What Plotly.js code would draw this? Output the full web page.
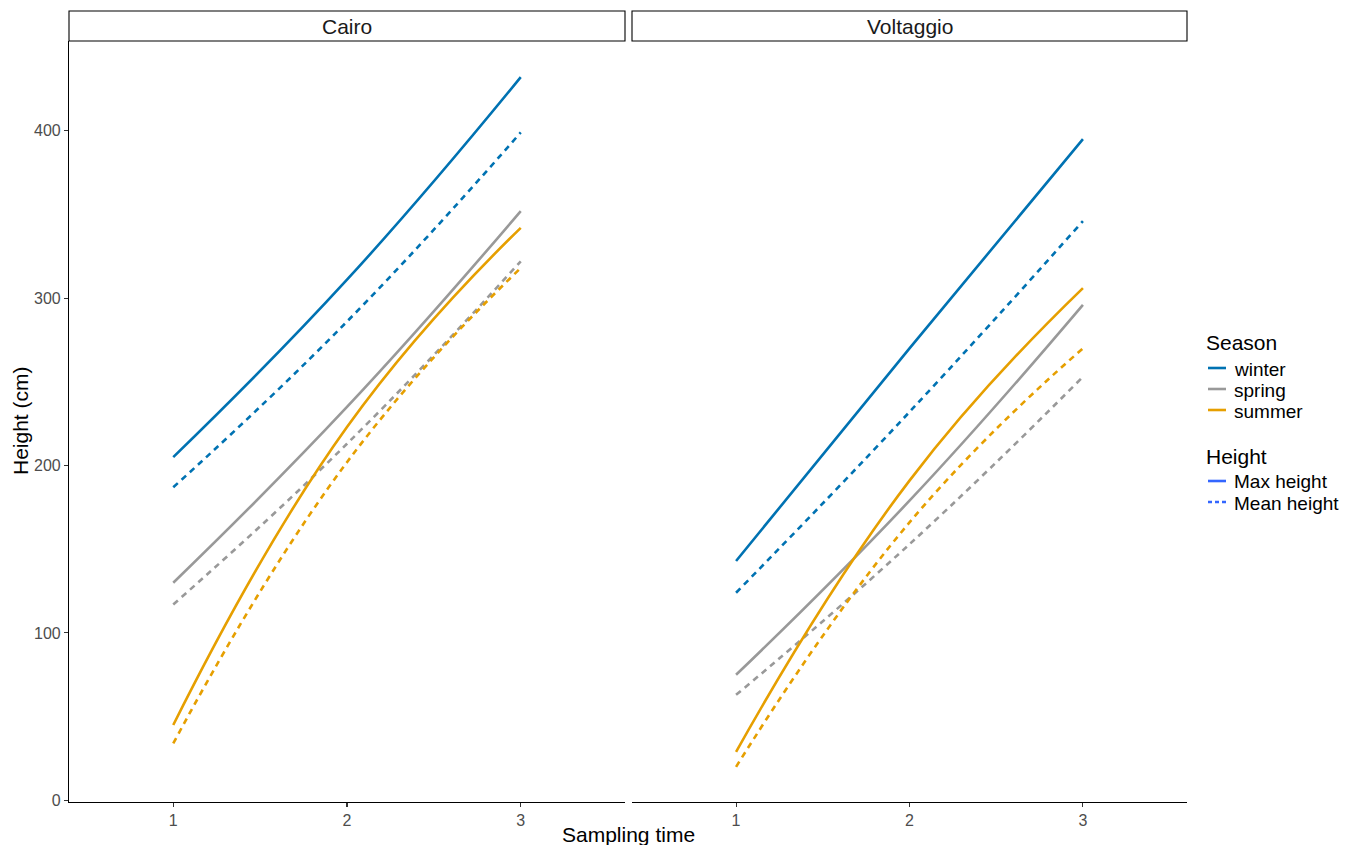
<!DOCTYPE html>
<html>
<head>
<meta charset="utf-8">
<script src="https://cdn.plot.ly/plotly-3.0.1.min.js"></script>
<style>html,body{margin:0;padding:0;background:#fff;}#chart{width:1366px;height:845px;}</style>
</head>
<body>
<div id="chart"></div>
<script>
// ---- data ----
const times = [1, 2, 3];
const cities = ["Cairo", "Voltaggio"];
const seasons = ["winter", "spring", "summer"];
const seasonColors = ["#0072B2", "#999999", "#E69F00"];
const heightTypes = ["Max height", "Mean height"];
const heightColor = "#3366FF";

const cairoWinterMax = [205, 311, 432];
const cairoWinterMean = [187, 286, 399];
const cairoSpringMax = [130, 235, 352];
const cairoSpringMean = [117, 213, 322];
const cairoSummerMax = [45, 223, 342];
const cairoSummerMean = [34, 202, 318];

const voltWinterMax = [143, 270, 395];
const voltWinterMean = [124, 232, 346];
const voltSpringMax = [75, 179, 296];
const voltSpringMean = [63, 153, 253];
const voltSummerMax = [29, 191, 306];
const voltSummerMean = [20, 166, 270];

const yTicks = [0, 100, 200, 300, 400];

// ---- build traces ----
const series = {
  Cairo: {
    winter: [cairoWinterMax, cairoWinterMean],
    spring: [cairoSpringMax, cairoSpringMean],
    summer: [cairoSummerMax, cairoSummerMean]
  },
  Voltaggio: {
    winter: [voltWinterMax, voltWinterMean],
    spring: [voltSpringMax, voltSpringMean],
    summer: [voltSummerMax, voltSummerMean]
  }
};

const DASH = "6px,5px";
const traces = [];
cities.forEach((city, ci) => {
  const xa = ci === 0 ? "x" : "x2";
  const ya = ci === 0 ? "y" : "y2";
  seasons.forEach((s, si) => {
    [1, 0].forEach(hi => {
      traces.push({
        x: times, y: series[city][s][hi],
        xaxis: xa, yaxis: ya,
        type: "scatter", mode: "lines",
        line: {color: seasonColors[si], width: 2.6, shape: "spline", smoothing: 1.3,
               dash: hi === 0 ? "solid" : DASH},
        showlegend: false, hoverinfo: "skip"
      });
    });
  });
});

const FONT = "Liberation Sans, Arial, sans-serif";
const W = 1366, H = 845;
const px = v => v / W;
const py = v => (H - v) / H;
const yDom = [py(801.5), py(41)];
const x1Dom = [px(69), px(625)];
const x2Dom = [px(632), px(1187)];
const stripTop = py(11);

const xCommon = {
  range: [0.4, 3.6], tickvals: times, ticktext: times.map(String),
  showgrid: false, zeroline: false, showline: true, linecolor: "#000", linewidth: 1.1,
  ticks: "outside", ticklen: 4, tickcolor: "#333", tickwidth: 1.1,
  tickfont: {family: FONT, size: 16, color: "#4D4D4D"}, fixedrange: true
};

const shapes = [
  {type: "rect", xref: "paper", yref: "paper", x0: x1Dom[0], x1: x1Dom[1], y0: yDom[1], y1: stripTop,
   line: {color: "#000", width: 1.1}, fillcolor: "#fff"},
  {type: "rect", xref: "paper", yref: "paper", x0: x2Dom[0], x1: x2Dom[1], y0: yDom[1], y1: stripTop,
   line: {color: "#000", width: 1.1}, fillcolor: "#fff"}
];
const annotations = [
  {text: cities[0], xref: "paper", yref: "paper", x: (x1Dom[0] + x1Dom[1]) / 2, y: (yDom[1] + stripTop) / 2,
   showarrow: false, xanchor: "center", yanchor: "middle", font: {family: FONT, size: 21, color: "#1A1A1A"}},
  {text: cities[1], xref: "paper", yref: "paper", x: (x2Dom[0] + x2Dom[1]) / 2, y: (yDom[1] + stripTop) / 2,
   showarrow: false, xanchor: "center", yanchor: "middle", font: {family: FONT, size: 21, color: "#1A1A1A"}},
  {text: "Sampling time", xref: "paper", yref: "paper", x: (x1Dom[0] + x2Dom[1]) / 2, y: py(834),
   showarrow: false, xanchor: "center", yanchor: "middle", font: {family: FONT, size: 21, color: "#000"}},
  {text: "Height (cm)", xref: "paper", yref: "paper", x: px(21), y: py(421), textangle: -90,
   showarrow: false, xanchor: "center", yanchor: "middle", font: {family: FONT, size: 21, color: "#000"}}
];

// ---- manual legend (ggplot style) ----
const LFONT = 19;
function legendTitle(text, yc) {
  annotations.push({text: text, xref: "paper", yref: "paper", x: px(1205), y: py(yc), borderpad: 0,
    showarrow: false, xanchor: "left", yanchor: "middle", font: {family: FONT, size: 21, color: "#000"}});
}
function legendItem(text, yc, color, dash) {
  shapes.push({type: "line", xref: "paper", yref: "paper", x0: px(1208), x1: px(1226), y0: py(yc), y1: py(yc),
    line: {color: color, width: 2.6, dash: dash}});
  annotations.push({text: text, xref: "paper", yref: "paper", x: px(1233), y: py(yc + 1), borderpad: 0,
    showarrow: false, xanchor: "left", yanchor: "middle", font: {family: FONT, size: LFONT, color: "#000"}});
}
legendTitle("Season", 342);
seasons.forEach((s, i) => legendItem(s, 368 + 21 * i, seasonColors[i], "solid"));
legendTitle("Height", 456);
heightTypes.forEach((h, i) => legendItem(h, 481 + 21 * i, heightColor, i === 0 ? "solid" : "4px,3px"));

const layout = {
  width: W, height: H,
  margin: {l: 0, r: 0, t: 0, b: 0},
  paper_bgcolor: "#fff", plot_bgcolor: "#fff",
  font: {family: FONT},
  xaxis: Object.assign({}, xCommon, {domain: x1Dom, anchor: "y"}),
  xaxis2: Object.assign({}, xCommon, {domain: x2Dom, anchor: "y2"}),
  yaxis: {
    domain: yDom, range: [-0.7, 453.6], tickvals: yTicks,
    showgrid: false, zeroline: false, showline: true, linecolor: "#000", linewidth: 1.1,
    ticks: "outside", ticklen: 4, tickcolor: "#333", tickwidth: 1.1,
    tickfont: {family: FONT, size: 16, color: "#4D4D4D"}, anchor: "x", fixedrange: true
  },
  yaxis2: {
    domain: yDom, range: [-0.7, 453.6], matches: "y",
    showgrid: false, zeroline: false, showline: false, showticklabels: false, ticks: "",
    anchor: "x2", fixedrange: true
  },
  shapes: shapes,
  annotations: annotations,
  showlegend: false
};

Plotly.newPlot("chart", traces, layout, {displayModeBar: false, staticPlot: true});
</script>
</body>
</html>
